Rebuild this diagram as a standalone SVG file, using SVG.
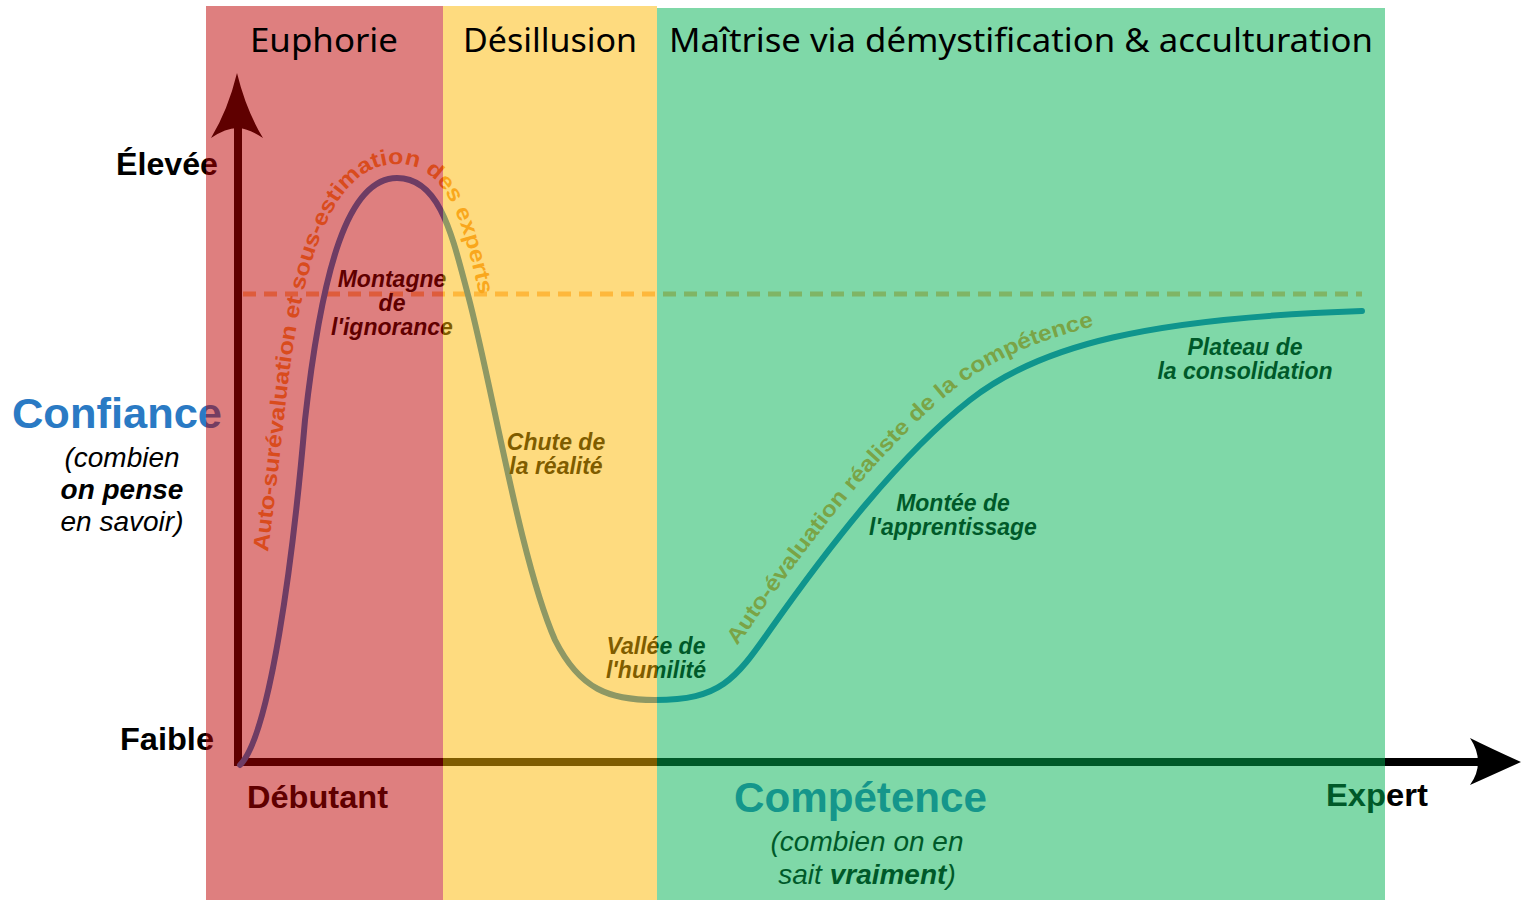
<svg xmlns="http://www.w3.org/2000/svg" width="1521" height="900" viewBox="0 0 1521 900">
<style>
.lbl{font-family:"Liberation Sans",Arial,sans-serif;font-weight:bold;fill:#000}
.bi{font-family:"Liberation Sans",Arial,sans-serif;font-weight:bold;font-style:italic;font-size:23px;fill:#000;text-anchor:middle}
.it{font-family:"Liberation Sans",Arial,sans-serif;font-style:italic;font-size:28px;fill:#000;text-anchor:middle}
.blue{fill:#2A7AC4}
.ptxt{font-family:"Liberation Sans",Arial,sans-serif;font-weight:bold;font-size:22px;fill:#F5963A}
.hdr{font-family:"Noto Sans","Open Sans",sans-serif;font-size:33px;fill:#000}
.ov{opacity:0.5}
</style>
<defs>
<path id="tp1" d="M 243,720 C 255,660 270,540 284,420 C 300,256 334,164 397,164 C 450,164 464,230 479,293 L 489,335"/>
<path id="tp2" d="M 732,652 C 740,642 748,632 756,619 C 816,534 886,443 956,388 C 1028,332 1146,303 1362,296"/>
</defs>
<rect x="0" y="0" width="1521" height="900" fill="#fff"/>
<g id="axes">
<line x1="238" y1="766" x2="238" y2="110" stroke="#000" stroke-width="8"/>
<path d="M237,73 Q246,110 263,138 Q248,128 237,128 Q226,128 211,138 Q228,110 237,73 Z" fill="#000"/>
<line x1="234" y1="762" x2="1490" y2="762" stroke="#000" stroke-width="8"/>
<path d="M1521,762 Q1490,748 1470,738 Q1478,750 1478,762 Q1478,774 1470,785 Q1490,776 1521,762 Z" fill="#000"/>
</g>
<g id="connectors">
<line x1="243" y1="294" x2="1362" y2="294" stroke="#FFB878" stroke-width="5" stroke-dasharray="13 8"/>
<path id="curve" d="M240,765 C270,735 293,560 305,420 C322,268 348,178 397,178 C440,178 452,235 468,295 C492,385 520,560 555,640 C580,690 610,700 655,700 C720,700 735,680 770,630 C830,545 900,455 970,400 C1040,345 1150,318 1362,311" fill="none" stroke="#1E78C8" stroke-width="6" stroke-linecap="round"/>
</g>
<g id="curve-text">
<text class="ptxt"><textPath href="#tp1" startOffset="170" textLength="600" lengthAdjust="spacingAndGlyphs">Auto-surévaluation et sous-estimation des experts</textPath></text>
<text class="ptxt"><textPath href="#tp2" startOffset="8" textLength="492" lengthAdjust="spacingAndGlyphs">Auto-évaluation réaliste de la compétence</textPath></text>
</g>
<g id="y-axis-labels">
<text class="lbl" x="116" y="175" font-size="31" textLength="102" lengthAdjust="spacingAndGlyphs">Élevée</text>
<text class="lbl" x="120" y="750" font-size="31" textLength="94" lengthAdjust="spacingAndGlyphs">Faible</text>
<text class="lbl blue" x="12" y="428" font-size="42" textLength="210" lengthAdjust="spacingAndGlyphs">Confiance</text>
<text class="it" x="122" y="467">(combien</text>
<text class="it" x="122" y="499" font-weight="bold">on pense</text>
<text class="it" x="122" y="531">en savoir)</text>
</g>
<g id="x-axis-labels">
<text class="lbl" x="247" y="808" font-size="32" textLength="141" lengthAdjust="spacingAndGlyphs">Débutant</text>
<text class="lbl" x="1326" y="806" font-size="32" textLength="102" lengthAdjust="spacingAndGlyphs">Expert</text>
<text class="lbl blue" x="734" y="812" font-size="42" textLength="253" lengthAdjust="spacingAndGlyphs">Compétence</text>
<text class="it" x="867" y="851">(combien on en</text>
<text class="it" x="867" y="884">sait <tspan font-weight="bold">vraiment</tspan>)</text>
</g>
<g id="node-montagne">
<text class="bi" x="392" y="287">Montagne</text>
<text class="bi" x="392" y="311">de</text>
<text class="bi" x="392" y="335">l'ignorance</text>
</g>
<g id="node-chute">
<text class="bi" x="556" y="450">Chute de</text>
<text class="bi" x="556" y="474">la réalité</text>
</g>
<g id="node-vallee">
<text class="bi" x="656" y="654">Vallée de</text>
<text class="bi" x="656" y="678">l'humilité</text>
</g>
<g id="node-montee">
<text class="bi" x="953" y="511">Montée de</text>
<text class="bi" x="953" y="535">l'apprentissage</text>
</g>
<g id="node-plateau">
<text class="bi" x="1245" y="355">Plateau de</text>
<text class="bi" x="1245" y="379">la consolidation</text>
</g>
<g id="phases">
<rect class="ov" x="206" y="6" width="237" height="894" fill="#BD0000"/>
<rect class="ov" x="443" y="6" width="214" height="894" fill="#FDB700"/>
<rect class="ov" x="657" y="8" width="728" height="892" fill="#00B151"/>
</g>
<g id="headers">
<text class="hdr" x="250" y="52" textLength="148" lengthAdjust="spacingAndGlyphs">Euphorie</text>
<text class="hdr" x="463" y="52" textLength="174" lengthAdjust="spacingAndGlyphs">Désillusion</text>
<text class="hdr" x="669" y="52" textLength="704" lengthAdjust="spacingAndGlyphs">Maîtrise via démystification &amp; acculturation</text>
</g>
</svg>
